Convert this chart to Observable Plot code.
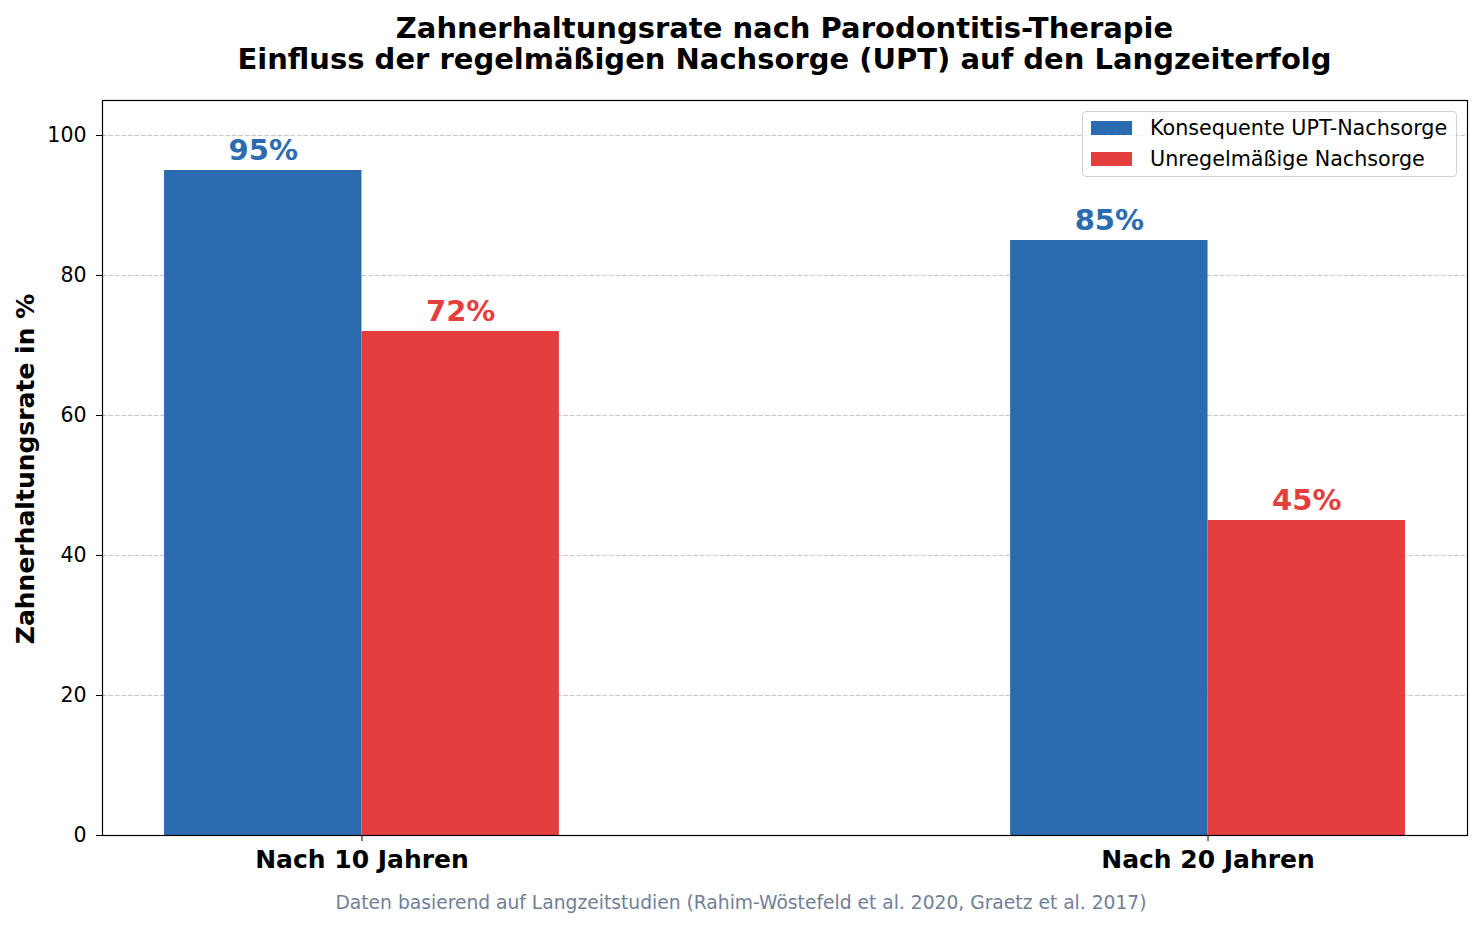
<!DOCTYPE html>
<html>
<head>
<meta charset="utf-8">
<script src="https://cdn.jsdelivr.net/npm/d3@7"></script>
<script src="https://cdn.jsdelivr.net/npm/@observablehq/plot@0.6"></script>
<style>
  html, body { margin: 0; padding: 0; background: #fff; }
  body { font-family: "DejaVu Sans", sans-serif; }
  #wrap { position: relative; width: 1482px; height: 929px; }
  #title { position: absolute; top: 13px; left: 84.5px; width: 1400px; text-align: center;
           font-weight: bold; font-size: 29px; line-height: 31px; color: #000; white-space: nowrap; }
  #chart { position: absolute; top: 88px; left: 0; }
  #ylabel { position: absolute; left: 25px; top: 469px; transform: translate(-50%, -50%) rotate(-90deg);
            font-weight: bold; font-size: 25px; white-space: nowrap; }
  #caption { position: absolute; top: 891px; left: 0; width: 1482px; text-align: center;
             font-size: 18.7px; line-height: 24px; color: #718096; }
  #legend { position: absolute; left: 1082px; top: 111px; width: 375px; height: 66px;
            border: 1px solid #d0d0d0; border-radius: 4px; background: rgba(255,255,255,0.8);
            box-sizing: border-box; font-size: 20.7px; }
  .item { position: absolute; left: 8px; height: 22px; display: flex; align-items: center; white-space: nowrap; }
  .sw { width: 41px; height: 14px; margin-right: 18px; }
</style>
</head>
<body>
<div id="wrap">
  <div id="title">Zahnerhaltungsrate nach Parodontitis-Therapie<br>Einfluss der regelmäßigen Nachsorge (UPT) auf den Langzeiterfolg</div>
  <div id="chart"></div>
  <div id="ylabel">Zahnerhaltungsrate in %</div>
  <div id="legend"></div>
  <div id="caption">Daten basierend auf Langzeitstudien (Rahim-Wöstefeld et al. 2020, Graetz et al. 2017)</div>
</div>
<script>
const categories = ["Nach 10 Jahren", "Nach 20 Jahren"];
const seriesNames = ["Konsequente UPT-Nachsorge", "Unregelmäßige Nachsorge"];
const consistentValues = [95, 85];
const irregularValues = [72, 45];
const seriesColors = ["#2B6CB0", "#E53E3E"];
const yTicks = [0, 20, 40, 60, 80, 100];

const groupSpacing = 1.5;
const barWidth = 0.35;
const rows = [];
categories.forEach((c, i) => {
  const center = i * groupSpacing;
  [consistentValues, irregularValues].forEach((vals, s) => {
    rows.push({
      category: c,
      series: seriesNames[s],
      value: vals[i],
      x1: center + (s - 1) * barWidth,
      x2: center + s * barWidth,
      xm: center + (s - 0.5) * barWidth,
      color: seriesColors[s]
    });
  });
});
const tickPositions = categories.map((c, i) => i * groupSpacing);
const xMin = -barWidth - 0.11, xMax = (categories.length - 1) * groupSpacing + barWidth + 0.11;

const plot = Plot.plot({
  width: 1482,
  height: 797,
  marginLeft: 102,
  marginRight: 15,
  marginTop: 12,
  marginBottom: 50,
  style: { fontFamily: "DejaVu Sans, sans-serif", background: "white", color: "#000" },
  x: { type: "linear", domain: [xMin, xMax] },
  y: { domain: [0, 105] },
  marks: [
    Plot.ruleY(yTicks.slice(1), { stroke: "#c8c8c8", strokeWidth: 1.1, strokeDasharray: "4.5,2" }),
    Plot.rectY(rows, { x1: "x1", x2: "x2", y1: 0, y2: "value", fill: "color" }),
    Plot.text(rows, { x: "xm", y: "value", text: d => d.value + "%", fill: "color",
      fontWeight: "bold", fontSize: 29, lineAnchor: "bottom", dy: -11 }),
    Plot.axisY({ ticks: yTicks, tickSize: 6, tickPadding: 10, fontSize: 20.5, label: null, stroke: "#000" }),
    Plot.axisX({ ticks: tickPositions, tickFormat: (d) => categories[Math.round(d / groupSpacing)],
      tickSize: 6, tickPadding: 9, fontSize: 25, fontWeight: "bold", label: null }),
    Plot.frame({ stroke: "#000", strokeWidth: 1.2 })
  ]
});
document.getElementById("chart").appendChild(plot);

const legend = document.getElementById("legend");
seriesNames.forEach((name, i) => {
  const item = document.createElement("div");
  item.className = "item";
  item.style.top = (5 + i * 31) + "px";
  const sw = document.createElement("div");
  sw.className = "sw";
  sw.style.background = seriesColors[i];
  const label = document.createElement("span");
  label.textContent = name;
  item.appendChild(sw);
  item.appendChild(label);
  legend.appendChild(item);
});
</script>
</body>
</html>
